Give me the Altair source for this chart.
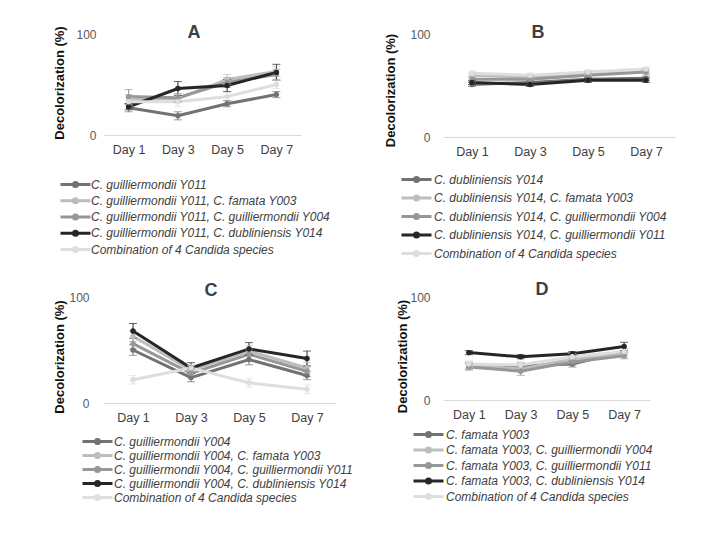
import altair as alt
import pandas as pd

days = ["Day 1", "Day 3", "Day 5", "Day 7"]
colors = ["#727272", "#bdbdbd", "#979797", "#262626", "#dedede"]

# Panel A
a_series = ["C. guilliermondii Y011",
            "C. guilliermondii Y011, C. famata Y003",
            "C. guilliermondii Y011, C. guilliermondii Y004",
            "C. guilliermondii Y011, C. dubliniensis Y014",
            "Combination of 4 Candida species"]
a_values = [[27, 19, 31, 40], [35, 36, 55, 63], [38, 37, 52, 60], [28, 46, 49, 62], [33, 33, 38, 50]]
a_errors = [[4, 4, 3, 3], [5, 4, 5, 5], [7, 4, 5, 5], [3, 7, 6, 8], [4, 5, 4, 4]]

# Panel B
b_series = ["C. dubliniensis Y014",
            "C. dubliniensis Y014, C. famata Y003",
            "C. dubliniensis Y014, C. guilliermondii Y004",
            "C. dubliniensis Y014, C. guilliermondii Y011",
            "Combination of 4 Candida species"]
b_values = [[51, 53, 56, 57], [60, 58, 62, 64], [56, 56, 60, 63], [53, 51, 55, 55], [62, 60, 63, 66]]
b_errors = [[2, 2, 2, 2], [2, 2, 2, 2], [2, 2, 2, 2], [2, 2, 2, 2], [2, 2, 2, 2]]

# Panel C
c_series = ["C. guilliermondii Y004",
            "C. guilliermondii Y004, C. famata Y003",
            "C. guilliermondii Y004, C. guilliermondii Y011",
            "C. guilliermondii Y004, C. dubliniensis Y014",
            "Combination of 4 Candida species"]
c_values = [[50, 24, 41, 26], [63, 31, 49, 33], [56, 28, 46, 30], [68, 33, 51, 42], [22, 33, 19, 13]]
c_errors = [[5, 4, 5, 4], [5, 4, 5, 5], [5, 4, 5, 5], [7, 5, 6, 7], [4, 3, 4, 4]]

# Panel D
d_series = ["C. famata Y003",
            "C. famata Y003, C. guilliermondii Y004",
            "C. famata Y003, C. guilliermondii Y011",
            "C. famata Y003, C. dubliniensis Y014",
            "Combination of 4 Candida species"]
d_values = [[33, 33, 35, 47], [34, 30, 40, 44], [32, 28, 37, 43], [46, 42, 45, 52], [35, 34, 42, 47]]
d_errors = [[3, 3, 3, 3], [3, 3, 3, 3], [3, 4, 3, 3], [2, 2, 2, 4], [3, 3, 3, 3]]

FONT = "Liberation Sans"
# line 30px long starting at the entry origin, with a dot at its middle
LEGEND_SYMBOL = "M-1,0H5M1.6,0A0.4,0.4,0,1,1,2.4,0A0.4,0.4,0,1,1,1.6,0"


def panel(letter, series, values, errors, width, height, title_dx, title_offset,
          ytitle_x, ytitle_y, label_pad, leg_x, leg_y, row_pad, leg_label_off):
    rows = []
    for i, (s, vals, errs) in enumerate(zip(series, values, errors)):
        for d, v, e in zip(days, vals, errs):
            rows.append({"day": d, "series": s, "value": v, "lo": v - e, "hi": v + e, "k": i})
    df = pd.DataFrame(rows)

    x = alt.X("day:O", sort=days, scale=alt.Scale(type="point", padding=0.5),
              axis=alt.Axis(title=None, labelAngle=0, ticks=False, domainColor="#d9d9d9",
                            domainWidth=1, labelPadding=8, labelFontSize=12.5,
                            labelColor="#404040", labelFont=FONT))
    yscale = alt.Scale(domain=[0, 100], nice=False, zero=True)
    ytitle = "Decolorization (%)"
    y_axis = alt.Axis(values=[0, 100], grid=False, ticks=False, domain=False,
                      labelFontSize=12, labelColor="#595959", labelFont=FONT,
                      labelPadding=label_pad,
                      title=ytitle, titleFont=FONT, titleFontSize=13, titleFontWeight="bold",
                      titleColor="#111111", titleX=ytitle_x, titleY=ytitle_y,
                      titleAngle=270, titleBaseline="middle", titleAlign="center")
    cscale = alt.Scale(domain=series, range=colors)
    legend = alt.Legend(title=None, orient="none", legendX=leg_x, legendY=leg_y,
                        direction="vertical", symbolType=LEGEND_SYMBOL, symbolSize=100,
                        symbolStrokeWidth=3, symbolOpacity=1, labelOffset=leg_label_off,
                        labelFont=FONT, labelFontSize=12, labelFontStyle="italic",
                        labelColor="#404040", labelLimit=500, rowPadding=row_pad,
                        clipHeight=12, padding=0)
    color = alt.Color("series:N", sort=series, scale=cscale, legend=legend)
    color_nl = alt.Color("series:N", sort=series, scale=cscale, legend=None)

    base = alt.Chart(df)
    lines = base.mark_line(strokeWidth=3).encode(
        x=x, y=alt.Y("value:Q", scale=yscale, axis=y_axis, title=ytitle),
        color=color, order="k:Q")
    pts = base.mark_circle(size=30, opacity=1).encode(
        x=x, y=alt.Y("value:Q", title=ytitle), color=color_nl)
    rules = base.mark_rule(strokeWidth=1).encode(
        x=x, y=alt.Y("lo:Q", title=ytitle), y2="hi:Q", color=color_nl)
    cap_lo = base.mark_tick(thickness=1, size=8).encode(
        x=x, y=alt.Y("lo:Q", title=ytitle), color=color_nl)
    cap_hi = base.mark_tick(thickness=1, size=8).encode(
        x=x, y=alt.Y("hi:Q", title=ytitle), color=color_nl)

    return alt.layer(lines, rules, cap_lo, cap_hi, pts).properties(
        width=width, height=height,
        title=alt.TitleParams(letter, font=FONT, fontSize=18, fontWeight="bold",
                              color="#404040", anchor="middle", dx=title_dx,
                              offset=title_offset, baseline="alphabetic"))


pa = panel("A", a_series, a_values, a_errors, 197, 101, -8.5, -30, -45, 48.5, 8, -45, 144.5, 4.25, 19)
pb = panel("B", b_series, b_values, b_errors, 232, 103, -21, -28, -53, 56, 13, -43, 139.5, 6.5, 21)
pc = panel("C", c_series, c_values, c_errors, 232, 106, -9, -23, -45, 59.5, 15, -23, 138.5, 2, 20)
pd_ = panel("D", d_series, d_values, d_errors, 207, 103, -4.5, -22, -41, 59, 13, -31, 131.5, 3.5, 21)

chart = alt.concat(pa, pb, pc, pd_, columns=2, spacing={"row": 160, "column": 107},
                   bounds="flush", align="each").resolve_scale(
    color="independent").resolve_legend(color="independent").properties(
    padding={"left": 45, "top": 15, "right": 5, "bottom": 5},
    background="white").configure_view(stroke=None)

chart.save("out.html", embed_options={"renderer": "svg", "actions": False})
